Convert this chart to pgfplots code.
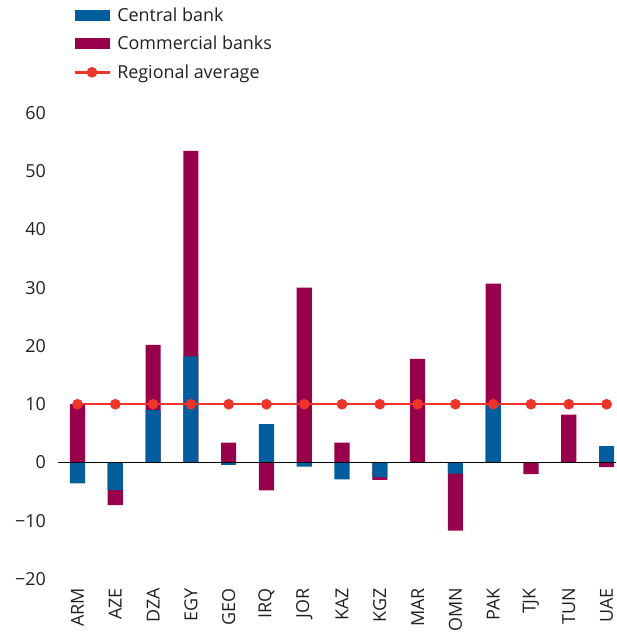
\documentclass[border=0pt]{standalone}
\usepackage{fontspec}
\setmainfont{Open Sans}
\usepackage{pgfplots}
\pgfplotsset{compat=1.18}
\definecolor{cbblue}{RGB}{0,94,158}
\definecolor{cmmaroon}{RGB}{153,0,76}
\definecolor{avgred}{RGB}{238,52,40}
\definecolor{txtgray}{RGB}{35,31,32}
\pgfplotsset{
  barlegend/.style={legend image code/.code={\fill[##1] (0bp,-5.5bp) rectangle (35bp,5.5bp);}},
  linelegend/.style={legend image code/.code={\draw[mark repeat=2,mark phase=2,##1] plot coordinates {(0bp,0bp) (17.5bp,0bp) (35bp,0bp)};}},
}
\begin{document}
\begin{tikzpicture}[font=\fontsize{18}{21}\selectfont, text=txtgray]
\begin{axis}[
  name=ax,
  scale only axis,
  width=558bp, height=466bp,
  xmin=-0.516, xmax=14.25,
  ymin=-20, ymax=60,
  axis line style={draw=none},
  major tick length=0pt,
  ytick={-20,-10,0,10,20,30,40,50,60},
  yticklabels={−20,−10,0,10,20,30,40,50,60},
  yticklabel style={inner sep=0pt, xshift=-12bp, anchor=east},
  xtick={0,...,14},
  xticklabels={ARM,AZE,DZA,EGY,GEO,IRQ,JOR,KAZ,KGZ,MAR,OMN,PAK,TJK,TUN,UAE},
  xticklabel style={rotate=90, anchor=east, inner sep=0pt},
  xticklabel shift={9bp},
  clip=false,
  legend style={draw=none, fill=none, inner sep=0pt,
    at={(axis description cs:0.027,1.231)}, anchor=north west,
    row sep=9.5bp,
    cells={anchor=west},
    nodes={inner xsep=6.5bp},
    font=\fontsize{18}{21}\selectfont},
]
\addlegendimage{fill=cbblue, draw=none, barlegend}
\addlegendentry{Central bank}
\addlegendimage{fill=cmmaroon, draw=none, barlegend}
\addlegendentry{Commercial banks}
\addlegendimage{avgred, line width=2.5bp, mark=*, mark size=4bp, mark options={fill=avgred, draw=avgred}, linelegend}
\addlegendentry{Regional average}

% Commercial banks, outer end of positive stack
\addplot[ybar, bar width=0.4, bar shift=0pt, fill=cmmaroon, draw=none, forget plot] coordinates {
(0,10.0) (1,0) (2,20.2) (3,53.5) (4,3.4) (5,0) (6,30.0) (7,3.4) (8,0) (9,17.8) (10,0) (11,30.7) (12,0) (13,8.2) (14,0)};
% Commercial banks, outer end of negative stack
\addplot[ybar, bar width=0.4, bar shift=0pt, fill=cmmaroon, draw=none, forget plot] coordinates {
(0,0) (1,-7.3) (2,0) (3,0) (4,0) (5,-4.8) (6,0) (7,0) (8,-3.0) (9,0) (10,-11.7) (11,0) (12,-2.0) (13,0) (14,-0.8)};
% Central bank
\addplot[ybar, bar width=0.4, bar shift=0pt, fill=cbblue, draw=none, forget plot] coordinates {
(0,-3.6) (1,-4.7) (2,9.0) (3,18.2) (4,-0.4) (5,6.6) (6,-0.7) (7,-2.9) (8,-2.5) (9,0) (10,-1.9) (11,9.9) (12,0) (13,0) (14,2.8)};
% zero line
\addplot[black, line width=1.2bp, forget plot] coordinates {(-0.516,0) (14.25,0)};
% Regional average
\addplot[avgred, line width=2.5bp, mark=*, mark size=4bp, mark options={fill=avgred, draw=avgred}, forget plot] coordinates {
(0,10) (1,10) (2,10) (3,10) (4,10) (5,10) (6,10) (7,10) (8,10) (9,10) (10,10) (11,10) (12,10) (13,10) (14,10)};
\end{axis}
\pgfresetboundingbox
\path[use as bounding box] ([xshift=-58bp,yshift=-53bp]ax.south west) rectangle ([yshift=113bp]ax.north east);
\end{tikzpicture}
\end{document}
